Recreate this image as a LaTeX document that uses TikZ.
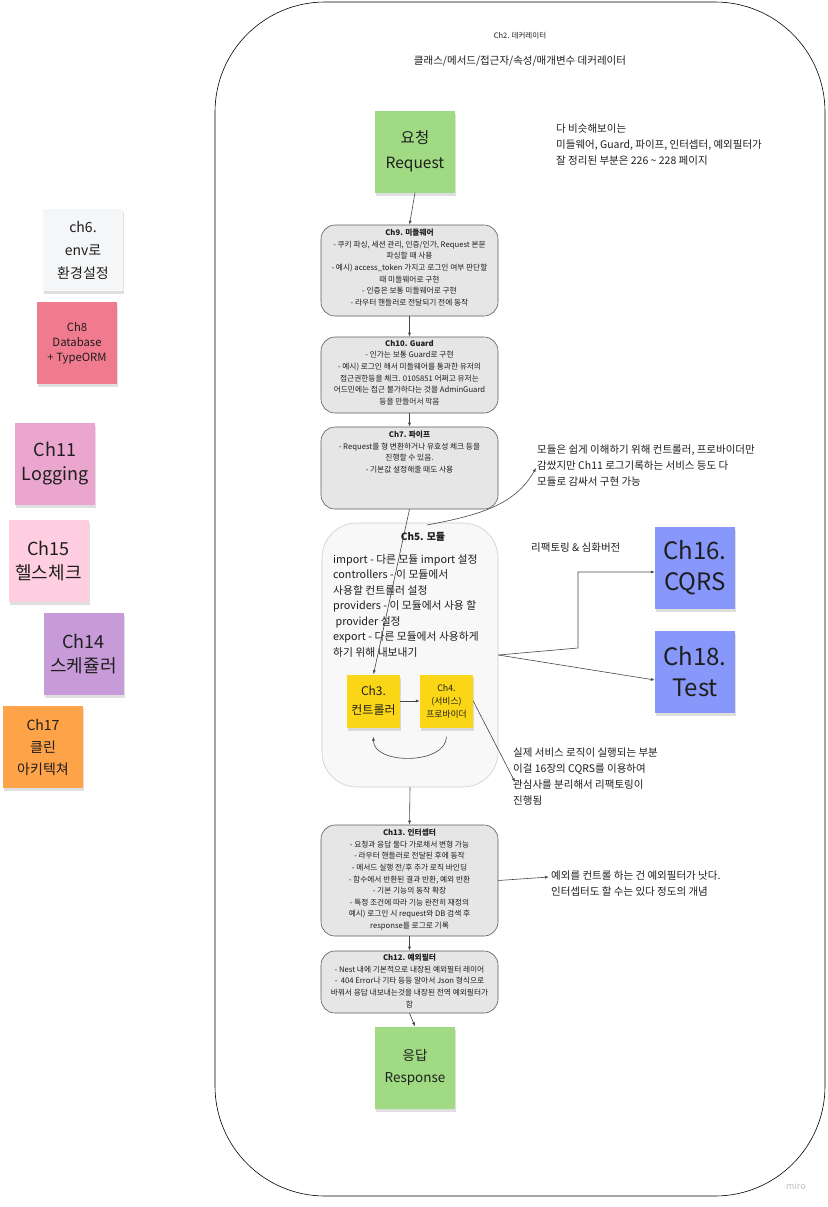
\documentclass[tikz,border=0pt]{standalone}
\usepackage{fontspec}
\setmainfont{Noto Sans CJK KR}
\usetikzlibrary{arrows.meta,shadows}
\definecolor{stgreen}{RGB}{160,219,132}
\definecolor{stblue}{RGB}{135,152,250}
\definecolor{stwhite}{RGB}{245,246,248}
\definecolor{stred}{RGB}{240,122,142}
\definecolor{stpink}{RGB}{234,166,206}
\definecolor{stlpink}{RGB}{255,206,224}
\definecolor{stpurple}{RGB}{199,155,215}
\definecolor{storange}{RGB}{255,163,72}
\definecolor{styellow}{RGB}{250,214,22}
\definecolor{boxfill}{RGB}{230,230,230}
\definecolor{boxline}{RGB}{90,90,90}
\definecolor{modfill}{RGB}{248,248,248}
\definecolor{modline}{RGB}{205,205,205}
\definecolor{linecol}{RGB}{70,70,70}
\definecolor{txt}{RGB}{30,30,30}
\begin{document}
\begin{tikzpicture}[x=1pt,y=-1pt,
  every node/.style={text=txt},
  sticky/.style={draw=none, minimum width=80, minimum height=82, align=center, inner sep=2,
    drop shadow={opacity=0.25, shadow xshift=1pt, shadow yshift=-3pt}},
  smallsticky/.style={sticky, minimum width=53, minimum height=53},
  chainbox/.style={draw=boxline, fill=boxfill, rounded corners=14, minimum width=177, line width=0.6},
  boxtext/.style={anchor=north, align=center, inner sep=0, font=\fontsize{7.7}{11.6}\selectfont},
  note/.style={anchor=north west, align=left, inner sep=0, font=\fontsize{10.5}{16}\selectfont},
  arr/.style={draw=linecol, line width=0.6, -{Latex[length=4pt,width=3pt]}},
  ln/.style={draw=linecol, line width=0.6}]
\useasboundingbox (0,0) rectangle (827,1207);
% frame
\draw[draw=black, line width=0.6, rounded corners=110] (215,2) rectangle (825,1196);
\node[font=\fontsize{7.5}{9}\selectfont] (t1) at (520,36) {Ch2. 데커레이터};
\node[font=\fontsize{10.5}{12}\selectfont] (t2) at (520,61) {클래스/메서드/접근자/속성/매개변수 데커레이터};
% request / response
\node[sticky, fill=stgreen, font=\fontsize{15.5}{25}\selectfont] (req) at (415,151.5) {요청\\Request};
\node[sticky, fill=stgreen, font=\fontsize{13.5}{22}\selectfont] (resp) at (415,1067.5) {응답\\Response};
% top-right note
\node[note] (n0) at (556,124) {다 비슷해보이는\\미들웨어, Guard, 파이프, 인터셉터, 예외필터가\\잘 정리된 부분은 226 \textasciitilde{} 228 페이지};
% left stickies
\node[sticky, fill=stwhite, font=\fontsize{14}{23}\selectfont] (ch6) at (83,250) {ch6.\\env로\\환경설정};
\node[sticky, fill=stred, font=\fontsize{11.3}{15}\selectfont] (ch8) at (77,343) {Ch8\\Database\\+ TypeORM};
\node[sticky, fill=stpink, font=\fontsize{18}{24}\selectfont] (ch11) at (55,463.5) {Ch11\\Logging};
\node[sticky, fill=stlpink, font=\fontsize{18}{24}\selectfont] (ch15) at (48.5,561) {Ch15\\헬스체크};
\node[sticky, fill=stpurple, font=\fontsize{18}{24}\selectfont] (ch14) at (83.5,654) {Ch14\\스케쥴러};
\node[sticky, fill=storange, font=\fontsize{14}{22}\selectfont] (ch17) at (43,747) {Ch17\\클린\\아키텍쳐};
% right stickies
\node[sticky, fill=stblue, font=\fontsize{24}{31}\selectfont] (ch16) at (695,567.5) {Ch16.\\CQRS};
\node[sticky, fill=stblue, font=\fontsize{24}{31}\selectfont] (ch18) at (695,672) {Ch18.\\Test};
\node[note, anchor=west] (nref) at (531,548) {리팩토링 \& 심화버전};
% chain boxes
\node[chainbox, minimum height=91] (ch9) at (409.5,270.5) {};
\node[boxtext] (ch9t) at (409.5,229) {\textbf{Ch9. 미들웨어}\\- 쿠키 파싱, 세션 관리, 인증/인가, Request 본문\\파싱할 때 사용\\- 예시) access\_token 가지고 로그인 여부 판단할\\때 미들웨어로 구현\\- 인증은 보통 미들웨어로 구현\\- 라우터 핸들러로 전달되기 전에 동작};
\node[chainbox, minimum height=76] (ch10) at (409.5,375) {};
\node[boxtext] (ch10t) at (409.5,340) {\textbf{Ch10. Guard}\\- 인가는 보통 Guard로 구현\\- 예시) 로그인 해서 미들웨어를 통과한 유저의\\접근권한등을 체크. 0105851 어쩌고 유저는\\어드민에는 접근 불가하다는 것을 AdminGuard\\등을 만들어서 막음};
\node[chainbox, minimum height=82] (ch7) at (409.5,468) {};
\node[boxtext] (ch7t) at (409.5,431) {\textbf{Ch7. 파이프}\\- Request를 형 변환하거나 유효성 체크 등을\\진행할 수 있음.\\- 기본값 설정해줄 때도 사용};
% module
\node[draw=modline, fill=modfill, rounded corners=35, minimum width=176, minimum height=264, line width=0.6] (mod) at (410,655) {};
\node[font=\bfseries\fontsize{10}{12}\selectfont] (modt) at (423,537) {Ch5. 모듈};
\node[anchor=north west, align=left, inner sep=0, font=\fontsize{10.8}{15.5}\selectfont] (modb) at (333,554) {import - 다른 모듈 import 설정\\controllers - 이 모듈에서\\사용할 컨트롤러 설정\\providers - 이 모듈에서 사용 할\\\ provider 설정\\export - 다른 모듈에서 사용하게\\하기 위해 내보내기};
\node[smallsticky, fill=styellow, font=\fontsize{12}{19}\selectfont] (ch3) at (373.5,701) {Ch3.\\컨트롤러};
\node[smallsticky, fill=styellow, font=\fontsize{8.8}{13}\selectfont] (ch4) at (446.5,701) {Ch4.\\(서비스)\\프로바이더};
\draw[arr] (ch3.east) -- (ch4.west);
\draw[arr] ([yshift=-9pt]ch4.south) .. controls (446,765) and (373,765) .. ([yshift=-9pt]ch3.south);
% lower boxes
\node[chainbox, minimum height=111] (ch13) at (409.5,880.5) {};
\node[boxtext] (ch13t) at (409.5,829) {\textbf{Ch13. 인터셉터}\\- 요청과 응답 둘다 가로채서 변형 가능\\- 라우터 핸들러로 전달된 후에 동작\\- 메서드 실행 전/후 추가 로직 바인딩\\- 함수에서 반환된 결과 반환, 예외 반환\\- 기본 기능의 동작 확장\\- 특정 조건에 따라 기능 완전히 재정의\\예시) 로그인 시 request와 DB 검색 후\\response를 로그로 기록};
\node[chainbox, minimum height=62] (ch12) at (409.5,982) {};
\node[boxtext] (ch12t) at (409.5,954) {\textbf{Ch12. 예외필터}\\- Nest 내에 기본적으로 내장된 예외필터 레이어\\-\ \ 404 Error나 기타 등등 알아서 Json 형식으로\\바꿔서 응답 내보내는것을 내장된 전역 예외필터가\\함};
% notes
\node[note] (n9) at (537,445) {모듈은 쉽게 이해하기 위해 컨트롤러, 프로바이더만\\감쌌지만 Ch11 로그기록하는 서비스 등도 다\\모듈로 감싸서 구현 가능};
\node[note] (n10) at (513,748) {실제 서비스 로직이 실행되는 부분\\이걸 16장의 CQRS를 이용하여\\관심사를 분리해서 리팩토링이\\진행됨};
\node[note] (n13) at (551,871) {예외를 컨트롤 하는 건 예외필터가 낫다.\\인터셉터도 할 수는 있다 정도의 개념};
\coordinate (n9a) at (536,468);
\coordinate (n10a) at (515,782);
\coordinate (n13a) at (549,877);
% connectors
\draw[arr] (req.south) -- (ch9.north);
\draw[arr] (ch9.south) -- (ch10.north);
\draw[arr] (ch10.south) -- (ch7.north);
\draw[arr] (ch7.south) -- (ch3.north);
\draw[arr] (mod.south) -- (ch13.north);
\draw[arr] (ch13.south) -- (ch12.north);
\draw[arr] (ch12.south) -- (resp.north);
\draw[arr] (mod.east) -- (578,648) -- (578,572) -- (ch16.west |- 0,572);
\draw[arr] (mod.east) -- (ch18.west |- 0,680);
\draw[arr] (ch13.east) -- (n13a);
\draw[arr] (ch4.east) -- (n10a);
\draw[arr] (427,525) .. controls (480,515) and (515,505) .. (n9a);
\node[text=black!25, font=\fontsize{9}{10}\selectfont] (miro) at (796,1186) {miro};
\end{tikzpicture}
\end{document}
